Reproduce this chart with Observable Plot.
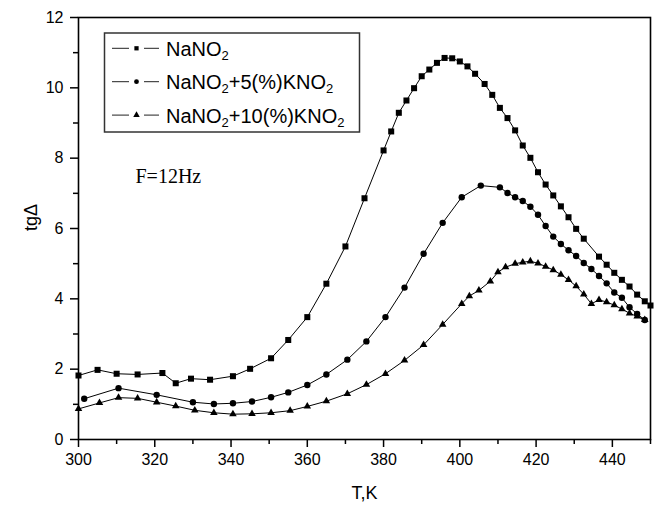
<!DOCTYPE html>
<html>
<head>
<meta charset="utf-8">
<script src="https://cdn.jsdelivr.net/npm/d3@7"></script>
<script src="https://cdn.jsdelivr.net/npm/@observablehq/plot@0.6"></script>
<style>
  html, body { margin: 0; padding: 0; background: #fff; }
  #chart { position: relative; width: 654px; height: 507px; }
</style>
</head>
<body>
<div id="chart"></div>
<script>
// ---- data ----
const seriesNames = ["NaNO2", "NaNO2+5(%)KNO2", "NaNO2+10(%)KNO2"];

const tNa = [300, 305, 310, 315.5, 322, 325.5, 329.5, 334.5, 340.5, 345, 350.5, 355, 360, 365, 370, 375, 380, 382, 384, 386, 388, 390, 392, 394, 396, 398, 400, 402, 404, 406.5, 408.5, 410.5, 412.5, 414.5, 416.5, 418.5, 420.5, 422.5, 424.5, 426.5, 428.5, 430.5, 432.5, 436.5, 438.5, 440.5, 442.5, 444.5, 446.5, 448.5, 450];
const vNa = [1.82, 1.98, 1.87, 1.85, 1.89, 1.60, 1.73, 1.70, 1.80, 2.01, 2.31, 2.83, 3.48, 4.43, 5.49, 6.86, 8.22, 8.76, 9.29, 9.64, 9.99, 10.33, 10.52, 10.71, 10.85, 10.84, 10.75, 10.61, 10.40, 10.11, 9.80, 9.43, 9.14, 8.79, 8.36, 8.01, 7.60, 7.25, 6.94, 6.63, 6.32, 5.99, 5.71, 5.20, 4.97, 4.74, 4.54, 4.35, 4.12, 3.93, 3.81];

const tK5 = [301.5, 310.5, 320.5, 330, 335.5, 340.5, 345.5, 350.5, 355, 360, 365, 370.5, 375.5, 380.5, 385.5, 390.5, 395.5, 400.5, 405.5, 410.5, 412.5, 414.5, 416.5, 418.5, 420.5, 422.5, 424.5, 426.5, 428.5, 430.5, 432.5, 434.5, 436.5, 438.5, 440.5, 442.5, 444.5, 446.5, 448.5];
const vK5 = [1.16, 1.46, 1.27, 1.06, 1.01, 1.03, 1.08, 1.20, 1.34, 1.55, 1.85, 2.27, 2.79, 3.48, 4.32, 5.28, 6.16, 6.89, 7.22, 7.17, 7.01, 6.89, 6.78, 6.62, 6.39, 6.07, 5.77, 5.56, 5.38, 5.22, 5.02, 4.85, 4.65, 4.44, 4.18, 4.03, 3.76, 3.57, 3.40];

const tK10 = [300, 305.5, 310.5, 315.5, 320.5, 325.5, 330.5, 335.5, 340.5, 345.5, 350.5, 355.5, 360, 365, 370.5, 375.5, 380.5, 385.5, 390.5, 395.5, 400.5, 402.5, 405, 408, 410, 412, 414.5, 416.5, 418.5, 420.5, 422.5, 424.5, 426.5, 428.5, 430.5, 432.5, 434.5, 436.5, 438.5, 440.5, 442.5, 444.5, 446.5, 448.5];
const vK10 = [0.87, 1.04, 1.19, 1.17, 1.06, 0.95, 0.83, 0.76, 0.72, 0.73, 0.76, 0.82, 0.94, 1.09, 1.30, 1.56, 1.87, 2.25, 2.69, 3.27, 3.86, 4.08, 4.24, 4.50, 4.76, 4.90, 5.00, 5.04, 5.07, 5.01, 4.92, 4.82, 4.69, 4.54, 4.36, 4.13, 3.86, 3.97, 3.91, 3.82, 3.71, 3.59, 3.50, 3.40];

const xMajorTicks = [300, 320, 340, 360, 380, 400, 420, 440];
const xMinorTicks = [310, 330, 350, 370, 390, 410, 430, 450];
const yMajorTicks = [0, 2, 4, 6, 8, 10, 12];
const yMinorTicks = [1, 3, 5, 7, 9, 11];
const xLabel = "T,K";
const yLabel = "tg\u0394";
const note = "F=12Hz";

// ---- build table ----
const tList = [tNa, tK5, tK10];
const vList = [vNa, vK5, vK10];
const rows = seriesNames.flatMap((s, i) => tList[i].map((t, j) => ({s, T: t, v: vList[i][j]})));
const symbolTypes = ["square", "circle", "triangle"];
const symbolR = [3.4, 3.2, 2.8];

const dotMarks = seriesNames.map((s, i) =>
  Plot.dot(rows.filter(d => d.s === s), {x: "T", y: "v", symbol: symbolTypes[i], r: symbolR[i], fill: "black", stroke: "none"})
);

const chart = Plot.plot({
  width: 654,
  height: 507,
  marginTop: 17,
  marginRight: 4,
  marginBottom: 68,
  marginLeft: 78,
  style: {fontFamily: "'Liberation Sans', Arial, sans-serif", fontSize: "16px", background: "white", color: "black"},
  x: {domain: [300, 450], label: null},
  y: {domain: [0, 12], label: null},
  marks: [
    Plot.line(rows, {x: "T", y: "v", z: "s", stroke: "black", strokeWidth: 1}),
    ...dotMarks,
    Plot.axisX({ticks: xMajorTicks, tickSize: 8, tickPadding: 6, strokeWidth: 1.5, fontSize: 16, tickFormat: d => String(d)}),
    Plot.axisX({ticks: xMinorTicks, tickSize: 5, strokeWidth: 1.5, tickFormat: () => ""}),
    Plot.axisY({ticks: yMajorTicks, tickSize: 8, tickPadding: 7, strokeWidth: 1.5, fontSize: 16, tickFormat: d => String(d)}),
    Plot.axisY({ticks: yMinorTicks, tickSize: 5, strokeWidth: 1.5, tickFormat: () => ""}),
    Plot.frame({stroke: "black", strokeWidth: 1.6}),
    Plot.text([xLabel], {frameAnchor: "bottom", dy: 54, fontSize: 18, textAnchor: "middle", lineAnchor: "middle"}),
    Plot.text([yLabel], {frameAnchor: "left", dx: -47, dy: -11, rotate: -90, fontSize: 18, textAnchor: "middle", lineAnchor: "middle"}),
    Plot.text([note], {frameAnchor: "top-left", dx: 57, dy: 159, fontSize: 20, fontFamily: "'Liberation Serif', 'Times New Roman', serif", textAnchor: "start", lineAnchor: "middle"})
  ]
});

// ---- legend (inside the plot area, top-left) ----
const svg = d3.select(chart);
const lg = svg.append("g").attr("class", "legend")
  .attr("text-anchor", "start").style("text-anchor", "start");
lg.append("rect").attr("x", 104.5).attr("y", 33).attr("width", 255).attr("height", 99)
  .attr("fill", "white").attr("stroke", "#333").attr("stroke-width", 1.5);
const d3Sym = {square: d3.symbolSquare, circle: d3.symbolCircle, triangle: d3.symbolTriangle};
seriesNames.forEach((name, i) => {
  const cy = 48.3 + i * 33.4;
  const row = lg.append("g");
  row.append("line").attr("x1", 112).attr("x2", 129).attr("y1", cy).attr("y2", cy)
    .attr("stroke", "#222").attr("stroke-width", 1);
  row.append("line").attr("x1", 144).attr("x2", 159).attr("y1", cy).attr("y2", cy)
    .attr("stroke", "#222").attr("stroke-width", 1);
  const symPath = d3.symbol().type(d3Sym[symbolTypes[i]]).size(Math.PI * 2.4 * 2.4)();
  row.append("path").attr("transform", `translate(136.5,${cy})`)
    .attr("d", symPath).attr("fill", "black").attr("stroke", "none");
  const txt = row.append("text").attr("x", 166).attr("y", cy + 7.4)
    .attr("text-anchor", "start").style("text-anchor", "start")
    .attr("font-family", "'Liberation Sans', Arial, sans-serif").attr("font-size", 20).attr("fill", "black");
  // split name so that the "2" after "NO" is a subscript
  const parts = name.split(/(?<=NO)(2)/);
  let prevSub = false;
  parts.forEach((p, k) => {
    if (p === "") return;
    const isSub = (p === "2" && k > 0 && parts[k - 1].endsWith("NO"));
    const ts = txt.append("tspan").text(p);
    if (isSub) { ts.attr("font-size", 13).attr("dy", 4); prevSub = true; }
    else if (prevSub) { ts.attr("dy", -4); prevSub = false; }
  });
});

document.getElementById("chart").appendChild(chart);
</script>
</body>
</html>
